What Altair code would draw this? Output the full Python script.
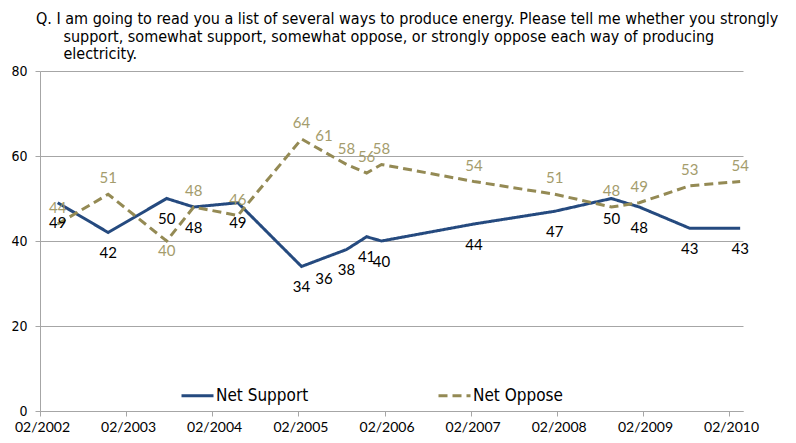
import altair as alt
import pandas as pd

# ---- data ----
dates = ["2002-04-17", "2002-11-17", "2003-07-23", "2003-11-15", "2004-05-20",
         "2005-02-14", "2005-05-20", "2005-08-24", "2005-11-17", "2006-01-19",
         "2007-02-15", "2008-01-24", "2008-09-20", "2009-01-16", "2009-08-18",
         "2010-03-20"]
net_support = [49, 42, 50, 48, 49, 34, 36, 38, 41, 40, 44, 47, 50, 48, 43, 43]
net_oppose = [44, 51, 40, 48, 46, 64, 61, 58, 56, 58, 54, 51, 48, 49, 53, 54]
series_names = ["Net Support", "Net Oppose"]
oppose_label_below = ["2003-07-23"]
tick_years = list(range(2002, 2011))
y_ticks = [0, 20, 40, 60, 80]

# zero-width space keeps the hanging indent from being trimmed away
INDENT = "\u200b" + "\u00a0" * 6
title_lines = [
    "Q. I am going to read you a list of several ways to produce energy. Please tell me whether you strongly",
    INDENT + "support, somewhat support, somewhat oppose, or strongly oppose each way of producing",
    INDENT + "electricity.",
]

BLUE = "#254A7F"
OLIVE = "#948A54"
OLIVE_TXT = "#A49C6C"
GRID = "#A6A6A6"

rows = []
for d, s, o in zip(dates, net_support, net_oppose):
    rows.append({"date": pd.Timestamp(d), "series": "Net Support", "value": s,
                 "below": False})
    rows.append({"date": pd.Timestamp(d), "series": "Net Oppose", "value": o,
                 "below": d in oppose_label_below})
df = pd.DataFrame(rows)

x_enc = alt.X(
    "date:T",
    scale=alt.Scale(domain=[alt.DateTime(year=2002, month=2, date=1),
                            alt.DateTime(year=2010, month=4, date=1)]),
    axis=alt.Axis(
        values=[alt.DateTime(year=yy, month=2, date=1) for yy in tick_years],
        format="%m/%Y", title=None, grid=False, labelFlush=False,
        labelOverlap=False, domainColor=GRID, tickColor=GRID, tickSize=5,
        labelPadding=4, labelFont="Lato", labelFontSize=14, labelColor="#000000",
        labelOffset=2,
    ),
)
y_enc = alt.Y(
    "value:Q",
    scale=alt.Scale(domain=[0, 80]),
    axis=alt.Axis(
        values=y_ticks, title=None, grid=True, gridColor=GRID, domainColor=GRID,
        tickColor=GRID, tickSize=5, labelPadding=8,
        labelFont="DejaVu Sans Condensed", labelFontSize=14, labelColor="#000000",
    ),
)

legend = alt.Legend(
    title=None, orient="none", legendX=140, legendY=307, direction="horizontal",
    symbolType="stroke", symbolSize=1024, symbolStrokeWidth=3,
    labelFont="DejaVu Sans Condensed", labelFontSize=17, labelColor="#000000",
    labelOffset=1, columnPadding=123,
)

base = alt.Chart(df)

lines = base.mark_line(strokeWidth=3).encode(
    x=x_enc,
    y=y_enc,
    color=alt.Color("series:N", scale=alt.Scale(domain=series_names, range=[BLUE, OLIVE]),
                    legend=legend),
    strokeDash=alt.StrokeDash("series:N",
                              scale=alt.Scale(domain=series_names, range=[[1, 0], [9, 5]]),
                              legend=legend),
)

sup_labels = base.transform_filter(alt.datum.series == "Net Support").mark_text(
    dy=20.5, font="Lato", fontSize=15, color="#000000", baseline="middle"
).encode(x=x_enc, y=y_enc, text="value:Q")

opp_labels_above = base.transform_filter(
    (alt.datum.series == "Net Oppose") & (alt.datum.below == False)
).mark_text(
    dy=-16, font="Lato", fontSize=15, color=OLIVE_TXT, baseline="middle"
).encode(x=x_enc, y=y_enc, text="value:Q")

opp_labels_below = base.transform_filter(
    (alt.datum.series == "Net Oppose") & (alt.datum.below == True)
).mark_text(
    dy=9.5, font="Lato", fontSize=15, color=OLIVE_TXT, baseline="middle"
).encode(x=x_enc, y=y_enc, text="value:Q")

chart = alt.layer(lines, sup_labels, opp_labels_above, opp_labels_below).properties(
    width=703,
    height=340,
    padding={"left": 32, "top": 63, "right": 45, "bottom": 24},
    autosize=alt.AutoSizeParams(type="none"),
    title=alt.TitleParams(
        text=title_lines, anchor="start", frame="group", dx=-4, offset=2,
        font="DejaVu Sans Condensed", fontSize=16, fontWeight="normal",
        color="#000000", lineHeight=17.5,
    ),
).configure_view(stroke=None)

chart.save("out.html", embed_options={"renderer": "svg", "actions": False})
